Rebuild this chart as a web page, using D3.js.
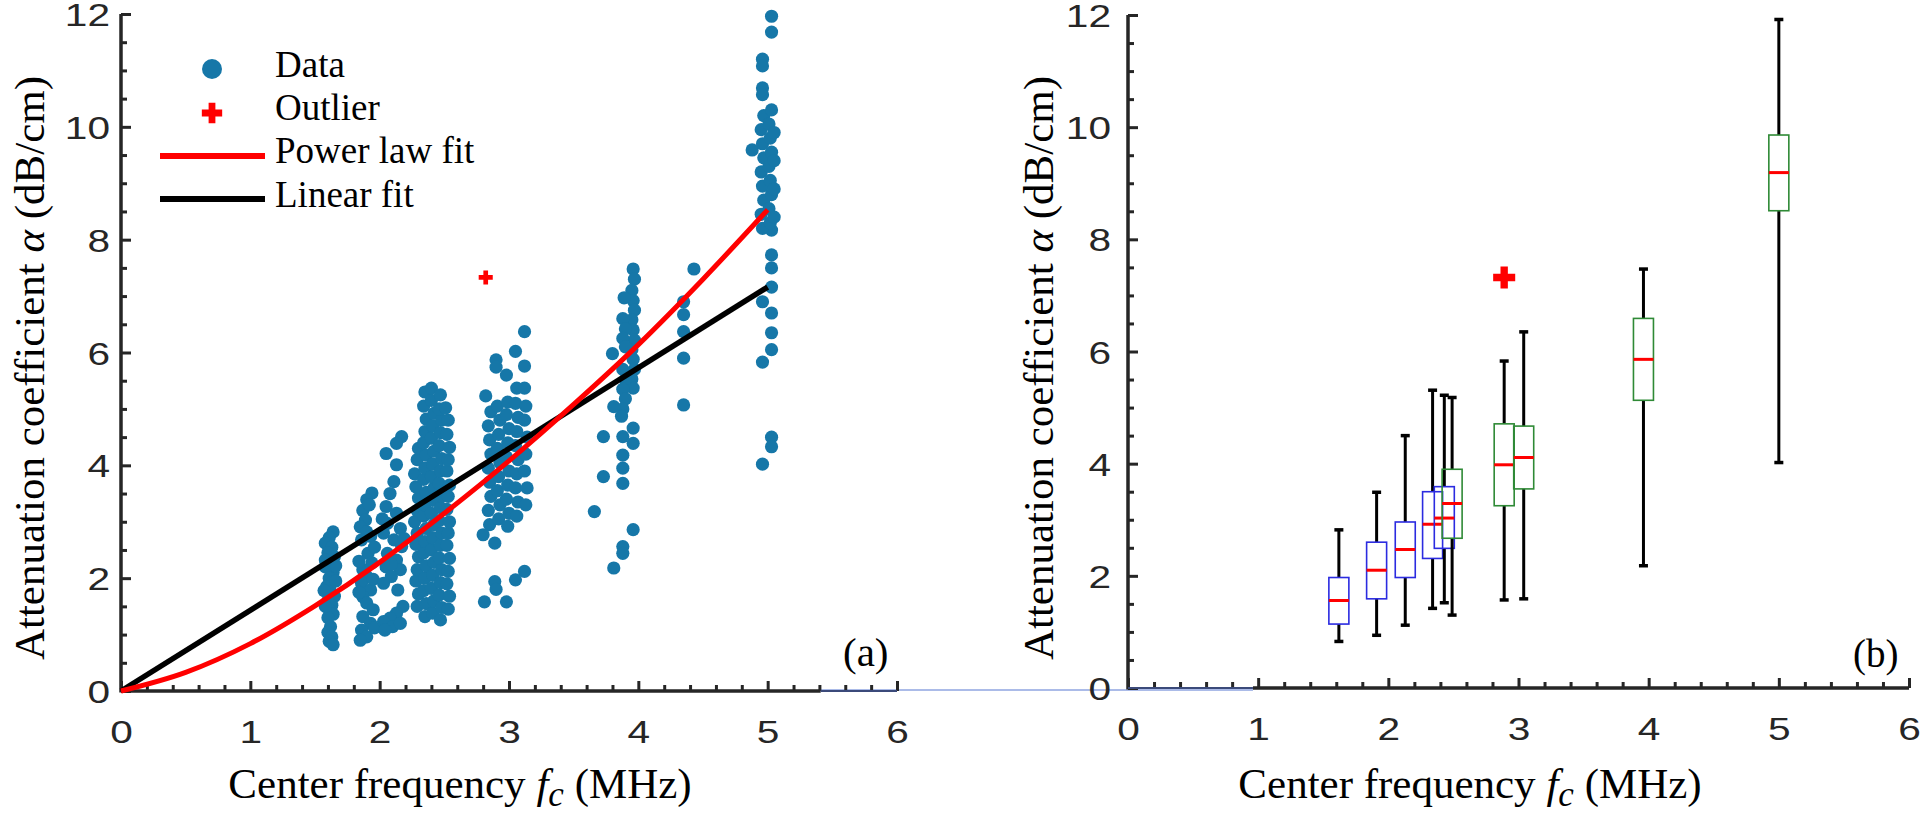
<!DOCTYPE html>
<html><head><meta charset="utf-8">
<script src="https://cdn.jsdelivr.net/npm/d3@7/dist/d3.min.js"></script>
<style>body{margin:0;background:#fff;overflow:hidden}</style>
</head><body>
<svg id="c" width="1920" height="816"></svg>
<script>
// ---------- DATA ----------
const xTickValues = [0, 1, 2, 3, 4, 5, 6];
const yTickValues = [0, 2, 4, 6, 8, 10, 12];

// scatter (f_c MHz, alpha dB/cm) read per frequency cluster
const scatter16 = [[1.64,2.82],[1.61,2.72],[1.58,2.62],[1.63,2.55],[1.60,2.45],[1.65,2.38],[1.62,2.28],[1.58,2.20],[1.64,2.10],[1.61,2.00],[1.63,1.92],[1.59,1.85],[1.62,1.76],[1.65,1.68],[1.60,1.60],[1.63,1.52],[1.61,1.44],[1.64,1.36],[1.60,1.30],[1.62,1.14],[1.60,1.04],[1.63,0.96],[1.61,0.88],[1.64,0.82],[1.57,1.78],[1.66,2.22],[1.58,2.32],[1.66,1.95],[1.58,1.50]];
const scatter19 = [[1.94,3.51],[1.90,3.39],[1.87,3.20],[1.89,3.03],[1.85,2.91],[1.90,2.82],[1.86,2.68],[1.93,2.74],[1.91,2.44],[1.94,2.27],[1.87,2.15],[1.90,2.03],[1.86,1.91],[1.93,1.79],[1.87,1.67],[1.90,1.56],[1.95,1.44],[1.87,1.32],[1.93,1.20],[1.86,1.08],[1.90,0.96],[1.85,0.90],[1.92,3.30],[1.96,2.55],[1.84,2.30],[1.95,1.98],[1.84,1.75],[1.96,1.12]];
const scatter21 = [[2.17,4.51],[2.13,4.39],[2.05,4.21],[2.13,4.01],[2.11,3.71],[2.08,3.50],[2.05,3.27],[2.13,3.15],[2.06,2.97],[2.16,2.88],[2.03,2.80],[2.11,2.68],[2.17,2.56],[2.06,2.44],[2.13,2.32],[2.05,2.20],[2.16,2.15],[2.09,2.03],[2.03,1.91],[2.14,1.79],[2.18,1.50],[2.13,1.38],[2.08,1.29],[2.03,1.23],[2.10,1.14],[2.04,1.08],[2.16,1.20],[2.19,2.70],[2.02,3.05],[2.09,2.25]];
const scatter24 = [
 [2.29,1.50],[2.30,1.72],[2.28,1.95],[2.29,2.15],[2.30,2.38],[2.28,2.60],[2.29,2.80],[2.27,3.00],[2.29,3.20],[2.30,3.42],[2.28,3.62],[2.27,3.85],[2.29,4.10],[2.30,4.30],
 [2.35,1.32],[2.36,1.55],[2.34,1.78],[2.35,2.00],[2.36,2.22],[2.34,2.45],[2.35,2.65],[2.36,2.88],[2.34,3.10],[2.35,3.30],[2.36,3.52],[2.34,3.75],[2.35,3.95],[2.36,4.18],[2.34,4.40],[2.35,4.60],[2.36,4.82],[2.34,5.05],[2.35,5.30],
 [2.41,1.38],[2.42,1.60],[2.40,1.82],[2.41,2.05],[2.42,2.28],[2.40,2.50],[2.41,2.72],[2.42,2.95],[2.40,3.15],[2.41,3.38],[2.42,3.60],[2.40,3.80],[2.41,4.02],[2.42,4.25],[2.40,4.48],[2.41,4.70],[2.42,4.92],[2.40,5.15],[2.40,5.37],
 [2.47,1.26],[2.48,1.48],[2.46,1.70],[2.47,1.92],[2.48,2.15],[2.46,2.36],[2.47,2.58],[2.48,2.80],[2.46,3.02],[2.47,3.25],[2.48,3.45],[2.46,3.68],[2.47,3.90],[2.48,4.12],[2.46,4.35],[2.47,4.58],[2.48,4.80],[2.46,5.00],[2.47,5.25],
 [2.53,1.45],[2.54,1.68],[2.52,1.90],[2.53,2.12],[2.54,2.35],[2.52,2.58],[2.53,2.80],[2.54,3.00],[2.52,3.22],[2.53,3.45],[2.54,3.65],[2.52,3.90],[2.53,4.10],[2.54,4.32],[2.52,4.55],[2.53,4.80],[2.51,5.02]];
const scatter30 = [
 [3.12,6.37],[3.05,6.02],[3.12,5.76],[2.90,5.87],[2.90,5.74],[2.98,5.60],[2.82,5.23],[3.06,5.37],[3.12,5.37],
 [2.85,2.95],[2.84,3.20],[2.86,3.45],[2.85,3.70],[2.84,3.95],[2.86,4.20],[2.85,4.45],[2.84,4.70],[2.86,4.95],
 [2.92,3.05],[2.93,3.30],[2.91,3.55],[2.92,3.80],[2.93,4.05],[2.91,4.30],[2.92,4.55],[2.93,4.80],[2.91,5.05],
 [2.99,2.92],[3.00,3.15],[2.98,3.40],[2.99,3.65],[3.00,3.90],[2.98,4.15],[2.99,4.40],[3.00,4.65],[2.98,4.90],[2.99,5.12],
 [3.06,3.10],[3.07,3.35],[3.05,3.60],[3.06,3.85],[3.07,4.10],[3.05,4.35],[3.06,4.60],[3.07,4.85],[3.05,5.10],
 [3.13,3.30],[3.14,3.60],[3.12,3.90],[3.13,4.20],[3.14,4.50],[3.12,4.80],[3.13,5.05],
 [2.80,2.77],[2.89,2.62],[3.12,2.12],[3.05,1.97],[2.89,1.94],[2.90,1.80],[2.81,1.58],[2.98,1.58]];
const scatter39 = [
 [3.96,7.48],[3.97,7.30],[3.95,7.10],[3.96,6.92],[3.97,6.75],[3.95,6.58],[3.96,6.40],[3.97,6.22],[3.95,6.05],[3.96,5.88],[3.97,5.70],[3.95,5.53],[3.96,5.37],[3.96,4.66],[3.96,4.39],[3.96,2.86],
 [3.89,6.97],[3.88,6.60],[3.90,6.42],[3.88,6.25],[3.90,6.10],[3.88,5.70],[3.90,5.52],[3.88,5.35],[3.90,5.18],[3.88,5.00],[3.87,4.87],[3.88,4.51],[3.88,4.18],[3.88,3.95],[3.88,3.68],[3.88,2.56],[3.88,2.44],
 [3.80,5.98],[3.81,5.04],[3.81,2.18],[3.73,4.51],[3.73,3.80],[3.66,3.18],
 [4.43,7.48],[4.35,6.90],[4.35,6.67],[4.35,6.37],[4.35,5.90],[4.35,5.07]];
const scatter50 = [
 [5.03,11.96],[5.03,11.68],[4.96,11.20],[4.96,11.08],[4.96,10.69],[4.96,10.57],[4.88,9.59],[5.03,8.17],[5.03,7.73],[5.03,7.50],[5.03,7.16],[4.96,6.90],[5.03,6.70],[5.03,6.35],[5.03,6.05],[4.96,5.83],[5.03,4.50],[5.03,4.33],[4.96,4.02],
 [4.96,8.20],[4.95,8.45],[4.97,8.70],[4.96,8.95],[4.95,9.20],[4.97,9.45],[4.96,9.70],[4.95,9.95],[4.97,10.20],
 [5.02,8.30],[5.01,8.55],[5.03,8.80],[5.02,9.05],[5.01,9.30],[5.03,9.55],[5.02,9.80],[5.01,10.05],[5.03,10.30],
 [5.05,8.40],[5.05,8.90],[5.05,9.40],[5.05,9.90]];
const scatterOutlier = [[2.82,7.33]];

// fits
const powerFitF = [0, 0.5, 1, 1.5, 2, 2.5, 3, 3.5, 4, 4.5, 5];
const powerFitA = [0, 0.33, 0.84, 1.51, 2.28, 3.15, 4.08, 5.08, 6.14, 7.30, 8.53];
const linearFitF = [0, 5];
const linearFitA = [0, 7.16];

// box plot (panel b)
const boxF     = [1.62, 1.91, 2.13, 2.34, 2.43, 2.49, 2.89, 3.04, 3.96, 5.00];
const boxLow   = [0.83, 0.94, 1.12, 1.42, 1.52, 1.30, 1.57, 1.59, 2.18, 4.02];
const boxQ1    = [1.14, 1.59, 1.97, 2.31, 2.49, 2.67, 3.25, 3.55, 5.13, 8.51];
const boxMed   = [1.56, 2.10, 2.47, 2.92, 3.03, 3.29, 3.98, 4.11, 5.86, 9.19];
const boxQ3    = [1.97, 2.60, 2.96, 3.50, 3.59, 3.90, 4.71, 4.67, 6.59, 9.86];
const boxHigh  = [2.82, 3.49, 4.50, 5.31, 5.22, 5.18, 5.83, 6.35, 7.47, 11.92];
const boxSet   = ['A','A','A','A','A','B','B','B','B','B'];
const boxOutlierF = [2.89];
const boxOutlierA = [7.32];

const legendLabels = ['Data', 'Outlier', 'Power law fit', 'Linear fit'];

// ---------- DRAW ----------
const svg = d3.select('#c');
const AX = '#262626';
const DOT = '#1677a8';
const SANS = '"Liberation Sans", Arial, sans-serif';
const SERIF = '"Liberation Serif", "Times New Roman", serif';
const TSX = 1.27;   // horizontal stretch of tick digits

const xL = d3.scaleLinear([0, 6], [121, 897]);
const yL = d3.scaleLinear([0, 12], [691, 14]);
const xR = d3.scaleLinear([0, 6], [1128, 1909]);
const yR = d3.scaleLinear([0, 12], [688, 15]);

function axes(x, y, yPad, blackSpan, thinSpan) {
  const g = svg.append('g');
  const xMinor = d3.range(0, 6.0001, 0.2).filter(v => Math.abs(v - Math.round(v)) > 1e-6);
  const yMinor = d3.range(0, 12.0001, 0.5).filter(v => Math.abs(v / 2 - Math.round(v / 2)) > 1e-6);
  const style = s => { s.select('.domain').remove(); s.selectAll('line').attr('stroke', AX).attr('stroke-width', 3); };
  g.append('g').attr('transform', `translate(0,${y(0)})`)
    .call(d3.axisBottom(x).tickValues(xMinor).tickSize(-6).tickFormat('')).call(style);
  g.append('g').attr('transform', `translate(0,${y(0)})`)
    .call(d3.axisBottom(x).tickValues(xTickValues).tickSize(-10).tickPadding(29).tickFormat(d3.format('d')))
    .call(style)
    .selectAll('text').attr('font-family', SANS).attr('font-size', 32).attr('fill', AX)
    .attr('transform', `scale(${TSX},1)`);
  g.append('g').attr('transform', `translate(${x(0)},0)`)
    .call(d3.axisLeft(y).tickValues(yMinor).tickSize(-6).tickFormat('')).call(style);
  g.append('g').attr('transform', `translate(${x(0)},0)`)
    .call(d3.axisLeft(y).tickValues(yTickValues).tickSize(-10).tickFormat(d3.format('d')))
    .call(style)
    .selectAll('text').attr('font-family', SANS).attr('font-size', 32).attr('fill', AX).attr('dy', '0.36em')
    .attr('x', -yPad / TSX).attr('transform', `scale(${TSX},1)`);
  g.append('line').attr('x1', x(0)).attr('x2', x(0)).attr('y1', y(0) + 1.5).attr('y2', y(12))
    .attr('stroke', AX).attr('stroke-width', 3.5);
  g.append('line').attr('x1', x(blackSpan[0])).attr('x2', x(blackSpan[1])).attr('y1', y(0)).attr('y2', y(0))
    .attr('stroke', AX).attr('stroke-width', 3.5);
  g.append('line').attr('x1', x(thinSpan[0])).attr('x2', x(thinSpan[1])).attr('y1', y(0)).attr('y2', y(0))
    .attr('stroke', '#3b4a7a').attr('stroke-width', 2);
  return g;
}

function yLabel(cx, cy) {
  const t = svg.append('text').attr('transform', `translate(${cx},${cy}) rotate(-90)`)
    .attr('text-anchor', 'middle').attr('font-family', SERIF).attr('font-size', 43).attr('fill', '#000');
  t.append('tspan').text('Attenuation coefficient ');
  t.append('tspan').attr('font-style', 'italic').text('α');
  t.append('tspan').text(' (dB/cm)');
}
function xLabel(cx, by) {
  const t = svg.append('text').attr('x', cx).attr('y', by)
    .attr('text-anchor', 'middle').attr('font-family', SERIF).attr('font-size', 43).attr('fill', '#000');
  t.append('tspan').text('Center frequency ');
  t.append('tspan').attr('font-style', 'italic').text('f');
  t.append('tspan').attr('font-style', 'italic').attr('font-size', 35).attr('dy', 8).text('c');
  t.append('tspan').attr('dy', -8).text(' (MHz)');
}

// connector line between panels
svg.append('line').attr('x1', xL(5.41)).attr('x2', xR(0.96)).attr('y1', 690).attr('y2', 690)
  .attr('stroke', '#8fa5e0').attr('stroke-width', 1.6);

// ----- panel (a) -----
axes(xL, yL, 11, [0, 5.41], [5.41, 6]);
const allScatter = [].concat(scatter16, scatter19, scatter21, scatter24, scatter30, scatter39, scatter50);
svg.append('g').selectAll('circle').data(allScatter).join('circle')
  .attr('cx', d => xL(d[0])).attr('cy', d => yL(d[1])).attr('r', 6.6).attr('fill', DOT);
svg.append('g').selectAll('path').data(scatterOutlier).join('path')
  .attr('transform', d => `translate(${xL(d[0])},${yL(d[1])})`)
  .attr('d', d3.symbol(d3.symbolCross, 110)).attr('fill', '#ff0000');

const line = d3.line().x(d => xL(d[0])).y(d => yL(d[1])).curve(d3.curveMonotoneX);
svg.append('path').datum(linearFitF.map((f, i) => [f, linearFitA[i]])).attr('d', line)
  .attr('fill', 'none').attr('stroke', '#000').attr('stroke-width', 5.5);
svg.append('path').datum(powerFitF.map((f, i) => [f, powerFitA[i]])).attr('d', line)
  .attr('fill', 'none').attr('stroke', '#ff0000').attr('stroke-width', 5);

// legend
const lg = svg.append('g');
const legY = [69, 113, 156, 199];
const legTextY = [77, 120, 163, 207];
lg.append('circle').attr('cx', 212).attr('cy', legY[0]).attr('r', 10).attr('fill', DOT);
lg.append('path').attr('transform', `translate(212,${legY[1]})`).attr('d', d3.symbol(d3.symbolCross, 230)).attr('fill', '#ff0000');
lg.append('line').attr('x1', 160).attr('x2', 265).attr('y1', legY[2]).attr('y2', legY[2]).attr('stroke', '#ff0000').attr('stroke-width', 6);
lg.append('line').attr('x1', 160).attr('x2', 265).attr('y1', legY[3]).attr('y2', legY[3]).attr('stroke', '#000').attr('stroke-width', 6);
lg.selectAll('text').data(legendLabels).join('text')
  .attr('x', 275).attr('y', (d, i) => legTextY[i])
  .attr('font-family', SERIF).attr('font-size', 37).attr('fill', '#000').text(d => d);

svg.append('text').attr('x', 843).attr('y', 666).attr('font-family', SERIF).attr('font-size', 41).text('(a)');
yLabel(44, 368);
xLabel(460, 798);

// ----- panel (b) -----
axes(xR, yR, 17, [0.96, 6], [0, 0.96]);
const BW = 20;
const colors = { A: '#2b2be0', B: '#2f8a36' };
const bg = svg.append('g');
boxF.forEach((f, i) => {
  const cx = xR(f);
  const g = bg.append('g');
  g.append('line').attr('x1', cx).attr('x2', cx).attr('y1', yR(boxQ3[i])).attr('y2', yR(boxHigh[i])).attr('stroke', '#000').attr('stroke-width', 3);
  g.append('line').attr('x1', cx).attr('x2', cx).attr('y1', yR(boxQ1[i])).attr('y2', yR(boxLow[i])).attr('stroke', '#000').attr('stroke-width', 3);
  g.append('line').attr('x1', cx - 4.5).attr('x2', cx + 4.5).attr('y1', yR(boxHigh[i])).attr('y2', yR(boxHigh[i])).attr('stroke', '#000').attr('stroke-width', 3.5);
  g.append('line').attr('x1', cx - 4.5).attr('x2', cx + 4.5).attr('y1', yR(boxLow[i])).attr('y2', yR(boxLow[i])).attr('stroke', '#000').attr('stroke-width', 3.5);
  g.append('rect').attr('x', cx - BW / 2).attr('width', BW).attr('y', yR(boxQ3[i])).attr('height', yR(boxQ1[i]) - yR(boxQ3[i]))
    .attr('fill', 'none').attr('stroke', colors[boxSet[i]]).attr('stroke-width', 1.6);
  g.append('line').attr('x1', cx - BW / 2).attr('x2', cx + BW / 2).attr('y1', yR(boxMed[i])).attr('y2', yR(boxMed[i])).attr('stroke', '#ff0000').attr('stroke-width', 3);
});
svg.append('g').selectAll('path').data(boxOutlierF).join('path')
  .attr('transform', (d, i) => `translate(${xR(d)},${yR(boxOutlierA[i])})`)
  .attr('d', d3.symbol(d3.symbolCross, 270)).attr('fill', '#ff0000');

svg.append('text').attr('x', 1853).attr('y', 667).attr('font-family', SERIF).attr('font-size', 39).text('(b)');
yLabel(1053, 368);
xLabel(1470, 798);
</script>
</body></html>
